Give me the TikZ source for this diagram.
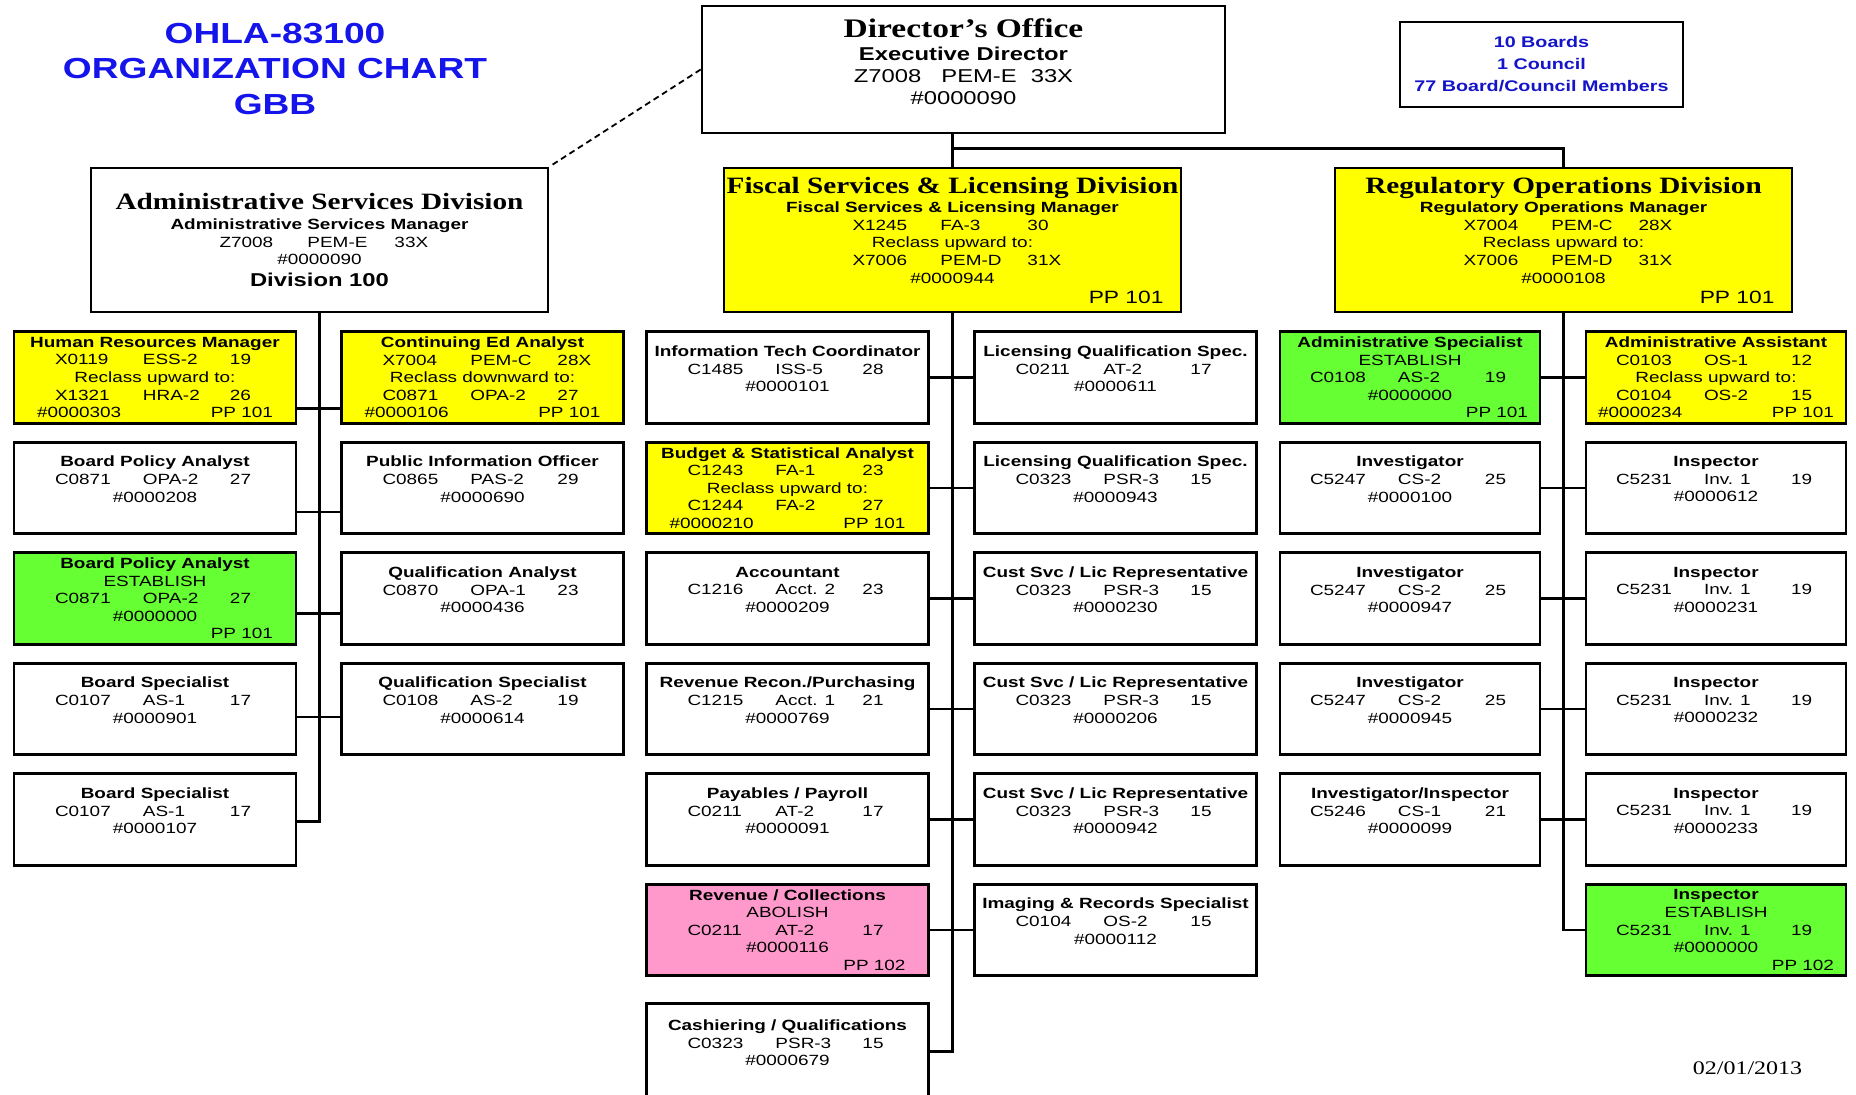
\documentclass[tikz,border=0pt]{standalone}
\usepackage{fontspec}
\setmainfont{Liberation Sans}[FakeStretch=1.28]
\newfontfamily\timesfont{Liberation Serif}[FakeStretch=1.25]
\usetikzlibrary{positioning,calc}

\definecolor{chartyellow}{RGB}{255,255,0}
\definecolor{chartgreen}{RGB}{102,255,51}
\definecolor{chartpink}{RGB}{255,153,204}
\definecolor{titleblue}{RGB}{20,20,235}
\definecolor{boardblue}{RGB}{20,20,200}

\lineskiplimit=-20pt
\newcommand{\postfont}{\fontsize{7.4}{8.8}\selectfont}
\newcommand{\trio}[3]{\makebox[44pt][l]{#1}\makebox[43.5pt][l]{#2}\makebox[12.5pt][l]{#3}}
\newcommand{\pnum}[2]{\makebox[118pt]{#1\hfill#2}}
\newcommand{\pponly}[1]{\makebox[118pt][r]{#1}}
\newcommand{\padline}{\\ \mbox{}}
\newcommand{\divtitle}[1]{{\timesfont\bfseries\fontsize{11.7}{12}\selectfont #1}}
\newcommand{\divpp}[1]{\makebox[211pt][r]{\fontsize{8.9}{10}\selectfont #1}}

\begin{document}
\lineskiplimit=-20pt
\begin{tikzpicture}[
    x=0.5pt, y=-0.5pt,
    node distance=8.2pt,
    post/.style={draw, line width=1.3pt, minimum width=141pt, minimum height=45.75pt,
                 inner sep=0pt, align=center, font=\postfont},
    slim/.style={post, minimum width=130pt},
    division/.style={post, minimum width=228.5pt, minimum height=72pt},
    upgrade/.style={fill=chartyellow},
    newpos/.style={fill=chartgreen},
    cutpos/.style={fill=chartpink},
    link/.style={line width=1.3pt},
    dotlink/.style={line width=0.9pt, dash pattern=on 3pt off 2pt},
  ]
    \useasboundingbox (0,0) rectangle (1856,1095);

    % Heading and notes
    \node[text=titleblue, align=center, font=\bfseries\fontsize{14.5}{17.7}\selectfont]
      (title) at (275,69) {OHLA-83100\\ORGANIZATION CHART\\GBB};
    \node[post, minimum width=141.5pt, minimum height=42.5pt, text=boardblue,
          font=\bfseries\fontsize{7.7}{11}\selectfont]
      (boards) at (1541.5,64.5) {10 Boards\\1 Council\\77 Board/Council Members};
    \node[font=\timesfont\fontsize{9.6}{12}\selectfont] (date) at (1747.5,1068) {02/01/2013};

    % Director and divisions
    \node[post, minimum width=261.5pt, minimum height=63.5pt,
          font=\fontsize{9.3}{11.2}\selectfont]
      (director) at (963.5,69.5)
      {{\timesfont\bfseries\fontsize{13.4}{14}\selectfont Director’s Office}\\
       \textbf{Executive Director}\\
       Z7008\hspace{10pt}PEM-E\hspace{7pt}33X\\
       \#0000090\\[-3.5pt]\mbox{}};
    \node[division] (admin) at (319.5,240)
      {\divtitle{Administrative Services Division}\\[1pt]
       \textbf{Administrative Services Manager}\\
       \trio{Z7008}{PEM-E}{33X}\\
       \#0000090\\[1.9pt]
       \textbf{\fontsize{9.3}{11}\selectfont Division 100}};
    \node[division, upgrade] (fiscal) at (952.5,240)
      {\divtitle{Fiscal Services \& Licensing Division}\\[1pt]
       \textbf{Fiscal Services \& Licensing Manager}\\
       \trio{X1245}{FA-3}{30}\\
       Reclass upward to:\\
       \trio{X7006}{PEM-D}{31X}\\
       \#0000944\\[1.2pt]
       \divpp{PP 101}};
    \node[division, upgrade] (reg) at (1563.5,240)
      {\divtitle{Regulatory Operations Division}\\[1pt]
       \textbf{Regulatory Operations Manager}\\
       \trio{X7004}{PEM-C}{28X}\\
       Reclass upward to:\\
       \trio{X7006}{PEM-D}{31X}\\
       \#0000108\\[1.2pt]
       \divpp{PP 101}};

    % Administrative Services positions
    \node[post, upgrade] (hrm) at (155,377.5)
      {\textbf{Human Resources Manager}\\ \trio{X0119}{ESS-2}{19}\\ Reclass upward to:\\
       \trio{X1321}{HRA-2}{26}\\ \pnum{\#0000303}{PP 101}};
    \node[post, below=of hrm] (bpa)
      {\textbf{Board Policy Analyst}\\ \trio{C0871}{OPA-2}{27}\\ \#0000208\padline};
    \node[post, newpos, below=of bpa] (bpanew)
      {\textbf{Board Policy Analyst}\\ ESTABLISH\\ \trio{C0871}{OPA-2}{27}\\
       \#0000000\\ \pponly{PP 101}};
    \node[post, below=of bpanew] (bs1)
      {\textbf{Board Specialist}\\ \trio{C0107}{AS-1}{17}\\ \#0000901\padline};
    \node[post, below=of bs1] (bs2)
      {\textbf{Board Specialist}\\ \trio{C0107}{AS-1}{17}\\ \#0000107\padline};
    \node[post, upgrade] (ceda) at (482.5,377.5)
      {\textbf{Continuing Ed Analyst}\\ \trio{X7004}{PEM-C}{28X}\\ Reclass downward to:\\
       \trio{C0871}{OPA-2}{27}\\ \pnum{\#0000106}{PP 101}};
    \node[post, below=of ceda] (pio)
      {\textbf{Public Information Officer}\\ \trio{C0865}{PAS-2}{29}\\ \#0000690\padline};
    \node[post, below=of pio] (qa)
      {\textbf{Qualification Analyst}\\ \trio{C0870}{OPA-1}{23}\\ \#0000436\padline};
    \node[post, below=of qa] (qs)
      {\textbf{Qualification Specialist}\\ \trio{C0108}{AS-2}{19}\\ \#0000614\padline};

    % Fiscal Services & Licensing positions
    \node[post] (itc) at (787.5,377.5)
      {\textbf{Information Tech Coordinator}\\ \trio{C1485}{ISS-5}{28}\\ \#0000101\padline};
    \node[post, upgrade, below=of itc] (bsa)
      {\textbf{Budget \& Statistical Analyst}\\ \trio{C1243}{FA-1}{23}\\ Reclass upward to:\\
       \trio{C1244}{FA-2}{27}\\ \pnum{\#0000210}{PP 101}};
    \node[post, below=of bsa] (acct)
      {\textbf{Accountant}\\ \trio{C1216}{Acct. 2}{23}\\ \#0000209\padline};
    \node[post, below=of acct] (rrp)
      {\textbf{Revenue Recon./Purchasing}\\ \trio{C1215}{Acct. 1}{21}\\ \#0000769\padline};
    \node[post, below=of rrp] (pay)
      {\textbf{Payables / Payroll}\\ \trio{C0211}{AT-2}{17}\\ \#0000091\padline};
    \node[post, cutpos, below=of pay] (revc)
      {\textbf{Revenue / Collections}\\ ABOLISH\\ \trio{C0211}{AT-2}{17}\\
       \#0000116\\ \pponly{PP 102}};
    \node[post, minimum height=48pt, below=12.7pt of revc] (cash)
      {\textbf{Cashiering / Qualifications}\\ \trio{C0323}{PSR-3}{15}\\ \#0000679\padline};
    \node[post] (lqs1) at (1115.5,377.5)
      {\textbf{Licensing Qualification Spec.}\\ \trio{C0211}{AT-2}{17}\\ \#0000611\padline};
    \node[post, below=of lqs1] (lqs2)
      {\textbf{Licensing Qualification Spec.}\\ \trio{C0323}{PSR-3}{15}\\ \#0000943\padline};
    \node[post, below=of lqs2] (csr1)
      {\textbf{Cust Svc / Lic Representative}\\ \trio{C0323}{PSR-3}{15}\\ \#0000230\padline};
    \node[post, below=of csr1] (csr2)
      {\textbf{Cust Svc / Lic Representative}\\ \trio{C0323}{PSR-3}{15}\\ \#0000206\padline};
    \node[post, below=of csr2] (csr3)
      {\textbf{Cust Svc / Lic Representative}\\ \trio{C0323}{PSR-3}{15}\\ \#0000942\padline};
    \node[post, below=of csr3] (irs)
      {\textbf{Imaging \& Records Specialist}\\ \trio{C0104}{OS-2}{15}\\ \#0000112\padline};

    % Regulatory Operations positions
    \node[slim, newpos] (ase) at (1410,377.5)
      {\textbf{Administrative Specialist}\\ ESTABLISH\\ \trio{C0108}{AS-2}{19}\\
       \#0000000\\ \pponly{PP 101}};
    \node[slim, below=of ase] (inv1)
      {\textbf{Investigator}\\ \trio{C5247}{CS-2}{25}\\ \#0000100\padline};
    \node[slim, below=of inv1] (inv2)
      {\textbf{Investigator}\\ \trio{C5247}{CS-2}{25}\\ \#0000947\padline};
    \node[slim, below=of inv2] (inv3)
      {\textbf{Investigator}\\ \trio{C5247}{CS-2}{25}\\ \#0000945\padline};
    \node[slim, below=of inv3] (invi)
      {\textbf{Investigator/Inspector}\\ \trio{C5246}{CS-1}{21}\\ \#0000099\padline};
    \node[slim, upgrade] (aa) at (1716,377.5)
      {\textbf{Administrative Assistant}\\ \trio{C0103}{OS-1}{12}\\ Reclass upward to:\\
       \trio{C0104}{OS-2}{15}\\ \pnum{\#0000234}{PP 101}};
    \node[slim, below=of aa] (insp1)
      {\textbf{Inspector}\\ \trio{C5231}{Inv. 1}{19}\\ \#0000612\padline};
    \node[slim, below=of insp1] (insp2)
      {\textbf{Inspector}\\ \trio{C5231}{Inv. 1}{19}\\ \#0000231\padline};
    \node[slim, below=of insp2] (insp3)
      {\textbf{Inspector}\\ \trio{C5231}{Inv. 1}{19}\\ \#0000232\padline};
    \node[slim, below=of insp3] (insp4)
      {\textbf{Inspector}\\ \trio{C5231}{Inv. 1}{19}\\ \#0000233\padline};
    \node[slim, newpos, below=of insp4] (insp5)
      {\textbf{Inspector}\\ ESTABLISH\\ \trio{C5231}{Inv. 1}{19}\\
       \#0000000\\ \pponly{PP 102}};

    % Reporting lines
    \draw[link] (fiscal.north |- director.south) -- (fiscal.north);
    \draw[link] ([yshift=9pt]fiscal.north) -| (reg.north);
    \draw[dotlink] (director.west) -- (admin.north east);

    \draw[link] (admin.south) |- ([yshift=-24.5pt]bs2.north east);
    \draw[link] ([yshift=-39pt]hrm.north east) -- ([yshift=-39pt]ceda.north west);
    \draw[link] ([yshift=-35.5pt]bpa.north east) -- ([yshift=-35.5pt]pio.north west);
    \draw[link] ([yshift=-31pt]bpanew.north east) -- ([yshift=-31pt]qa.north west);
    \draw[link] ([yshift=-27.5pt]bs1.north east) -- ([yshift=-27.5pt]qs.north west);

    \draw[link] (fiscal.south) |- (cash.east);
    \foreach \a/\b in {itc/lqs1, bsa/lqs2, acct/csr1, rrp/csr2, pay/csr3, revc/irs}
      \draw[link] (\a.east) -- (\b.west);

    \draw[link] (reg.south) |- (insp5.west);
    \foreach \a/\b in {ase/aa, inv1/insp1, inv2/insp2, inv3/insp3, invi/insp4}
      \draw[link] (\a.east) -- (\b.west);
\end{tikzpicture}
\end{document}
